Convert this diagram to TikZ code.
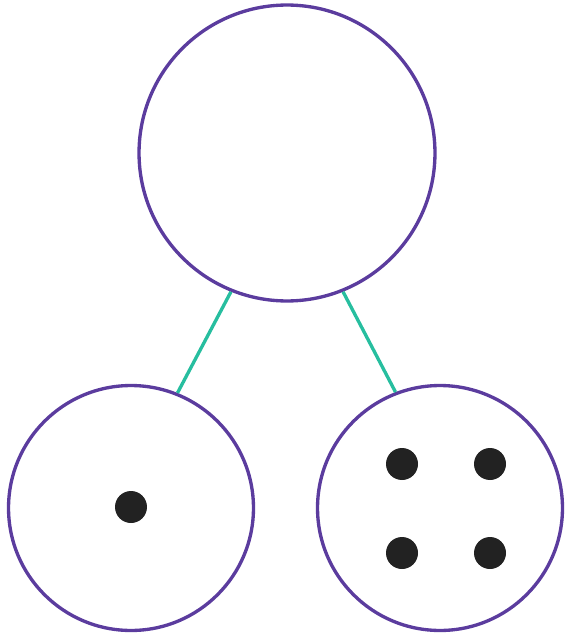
\documentclass[tikz,border=0pt]{standalone}
\definecolor{ringpurple}{HTML}{5B3C9E}
\definecolor{linkteal}{HTML}{27BE9F}
\definecolor{dotblack}{HTML}{222222}
\tikzset{
  whole/.style={circle, draw=ringpurple, line width=1.9pt, minimum size=5.92cm, inner sep=0pt},
  part/.style={circle, draw=ringpurple, line width=1.9pt, minimum size=4.9cm, inner sep=0pt},
  link/.style={draw=linkteal, line width=1.9pt},
  counter/.style={circle, fill=dotblack, minimum size=0.64cm, inner sep=0pt}
}
\begin{document}
\begin{tikzpicture}[x=0.02cm, y=-0.02cm]
  \useasboundingbox (0,0) rectangle (573,642);
  % number bond: whole on top, two parts below
  \node[whole] (top) at (287,153) {};
  \node[part]  (left) at (131,508) {};
  \node[part]  (right) at (440,508) {};
  % links
  \draw[link] (top.248) -- (left.68);
  \draw[link] (top.292) -- (right.111);
  % counters
  \node[counter] (l1) at (131,507) {};
  \node[counter] (r1) at (402,464) {};
  \node[counter] (r2) at (490,464) {};
  \node[counter] (r3) at (402,553) {};
  \node[counter] (r4) at (490,553) {};
\end{tikzpicture}
\end{document}
